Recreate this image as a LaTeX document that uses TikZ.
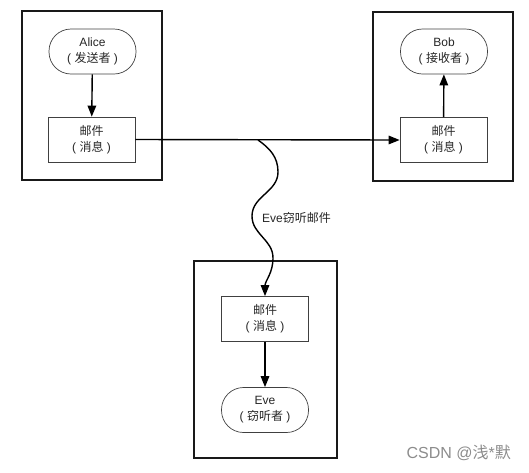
\documentclass[tikz,border=0pt]{standalone}
\usepackage{fontspec}
\setmainfont{Liberation Sans}
\newfontfamily\cjk{Noto Sans CJK SC}
\usetikzlibrary{arrows.meta}
\begin{document}
\begin{tikzpicture}[x=1pt,y=-1pt,
  every node/.style={text=black!85, font=\fontsize{12}{16}\selectfont, align=center, inner sep=0pt},
  outerbox/.style={draw=black!90, line width=1.8pt},
  msgbox/.style={draw=black!75, line width=0.7pt, minimum width=87pt, minimum height=45pt},
  actor/.style={draw=black!75, line width=0.7pt, rounded corners=22pt, minimum width=87pt, minimum height=45pt},
  arr/.style={draw=black, line width=1.4pt, -{Triangle[length=11pt,width=8.5pt]}},
  wm/.style={text=black!45, font=\fontsize{16}{18}\selectfont}
]
\useasboundingbox (0,0) rectangle (529,472);
% outer boxes
\node[outerbox, minimum width=140pt, minimum height=169pt] (abox) at (92,95.5) {};
\node[outerbox, minimum width=140pt, minimum height=169pt] (bbox) at (443,96.5) {};
\node[outerbox, minimum width=143pt, minimum height=197pt] (ebox) at (265.5,359.5) {};
% Alice
\node[actor] (alice) at (92.5,51.5) {Alice\\( {\cjk 发送者} )};
\node[msgbox] (amail) at (91.5,139.5) {{\cjk 邮件}\\( {\cjk 消息} )};
% Bob
\node[actor] (bob) at (444,51.5) {Bob\\( {\cjk 接收者} )};
\node[msgbox] (bmail) at (443.5,140) {{\cjk 邮件}\\( {\cjk 消息} )};
% Eve
\node[msgbox] (email) at (265,319) {{\cjk 邮件}\\( {\cjk 消息} )};
\node[actor] (eve) at (265,410) {Eve\\( {\cjk 窃听者} )};
% connectors
\draw[arr] (alice) -- (amail);
\draw[arr] (bmail) -- (bob);
\draw[arr] (amail.east) -- (bmail.west);
\draw[arr] (email) -- (eve);
\coordinate (tap) at (258,140);
\draw[arr] (tap) to[out=-35,in=90] (278,172) to[out=-90,in=90] (252,216) to[out=-90,in=90] (273,258) to[out=-90,in=90] (email.north);
\node[anchor=west] (lbl) at (262,218) {Eve{\cjk 窃听邮件}};
% watermark
\node[wm, anchor=east] (wmk) at (511,453) {CSDN @{\cjk 浅}*{\cjk 默}};
\end{tikzpicture}
\end{document}
